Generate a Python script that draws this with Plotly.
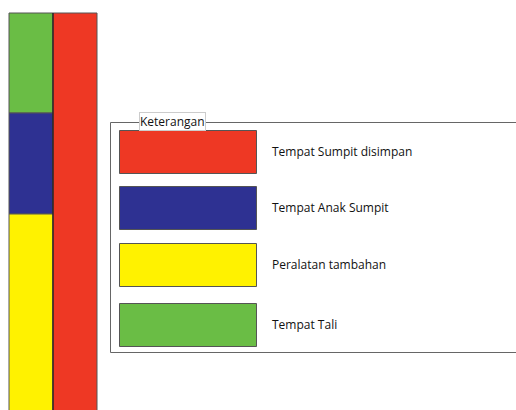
import plotly.graph_objects as go

# Data
parts = ["Tempat Tali", "Tempat Anak Sumpit", "Peralatan tambahan"]
part_lengths = [100, 101, 200]
main_part = "Tempat Sumpit disimpan"
main_length = 401
legend_labels = ["Tempat Sumpit disimpan", "Tempat Anak Sumpit", "Peralatan tambahan", "Tempat Tali"]
legend_title = "Keterangan"

colors = {
    "Tempat Sumpit disimpan": "#EE3824",
    "Tempat Anak Sumpit": "#2E3192",
    "Peralatan tambahan": "#FFF200",
    "Tempat Tali": "#6ABD45",
}

fig = go.Figure()

top = 13
base = top
for name, h in zip(parts, part_lengths):
    fig.add_trace(go.Bar(x=[31], y=[h], base=[base], width=[44],
                         marker=dict(color=colors[name], line=dict(color="#555555", width=1)),
                         showlegend=False, hoverinfo="skip", name=name))
    base += h
fig.add_trace(go.Bar(x=[75], y=[main_length], base=[top], width=[44],
                     marker=dict(color=colors[main_part], line=dict(color="#555555", width=1)),
                     showlegend=False, hoverinfo="skip", name=main_part))

# divider line between columns
fig.add_shape(type="line", x0=53, x1=53, y0=top, y1=420, line=dict(color="#111111", width=1))

# legend box
fig.add_shape(type="rect", x0=110.5, x1=530, y0=122.5, y1=352.5, line=dict(color="#666666", width=1))
fig.add_annotation(x=139, y=121, text=legend_title, showarrow=False, xanchor="left", yanchor="middle",
                   bgcolor="white", bordercolor="#cccccc", borderwidth=1, borderpad=0,
                   font=dict(family="Open Sans", size=12, color="#111111"))

swatch_y = [(130, 173), (186, 229), (243, 286), (303, 346)]
for (y0, y1), lab in zip(swatch_y, legend_labels):
    fig.add_shape(type="rect", x0=119.5, x1=256.5, y0=y0 + 0.5, y1=y1 + 0.5,
                  fillcolor=colors[lab], line=dict(color="#555555", width=1))
    fig.add_annotation(x=270, y=(y0 + y1) / 2, text=lab, showarrow=False, xanchor="left", yanchor="middle",
                       font=dict(family="Open Sans", size=12, color="#111111", weight=500))

fig.update_layout(
    width=516, height=410, margin=dict(l=0, r=0, t=0, b=0),
    paper_bgcolor="white", plot_bgcolor="white", barmode="overlay",
    xaxis=dict(range=[0, 516], visible=False, fixedrange=True),
    yaxis=dict(range=[410, 0], visible=False, fixedrange=True),
    showlegend=False,
)

fig.write_html("out.html", config={"displayModeBar": False, "staticPlot": True},
               post_script="document.body.style.margin='0';document.body.style.overflow='hidden';")
